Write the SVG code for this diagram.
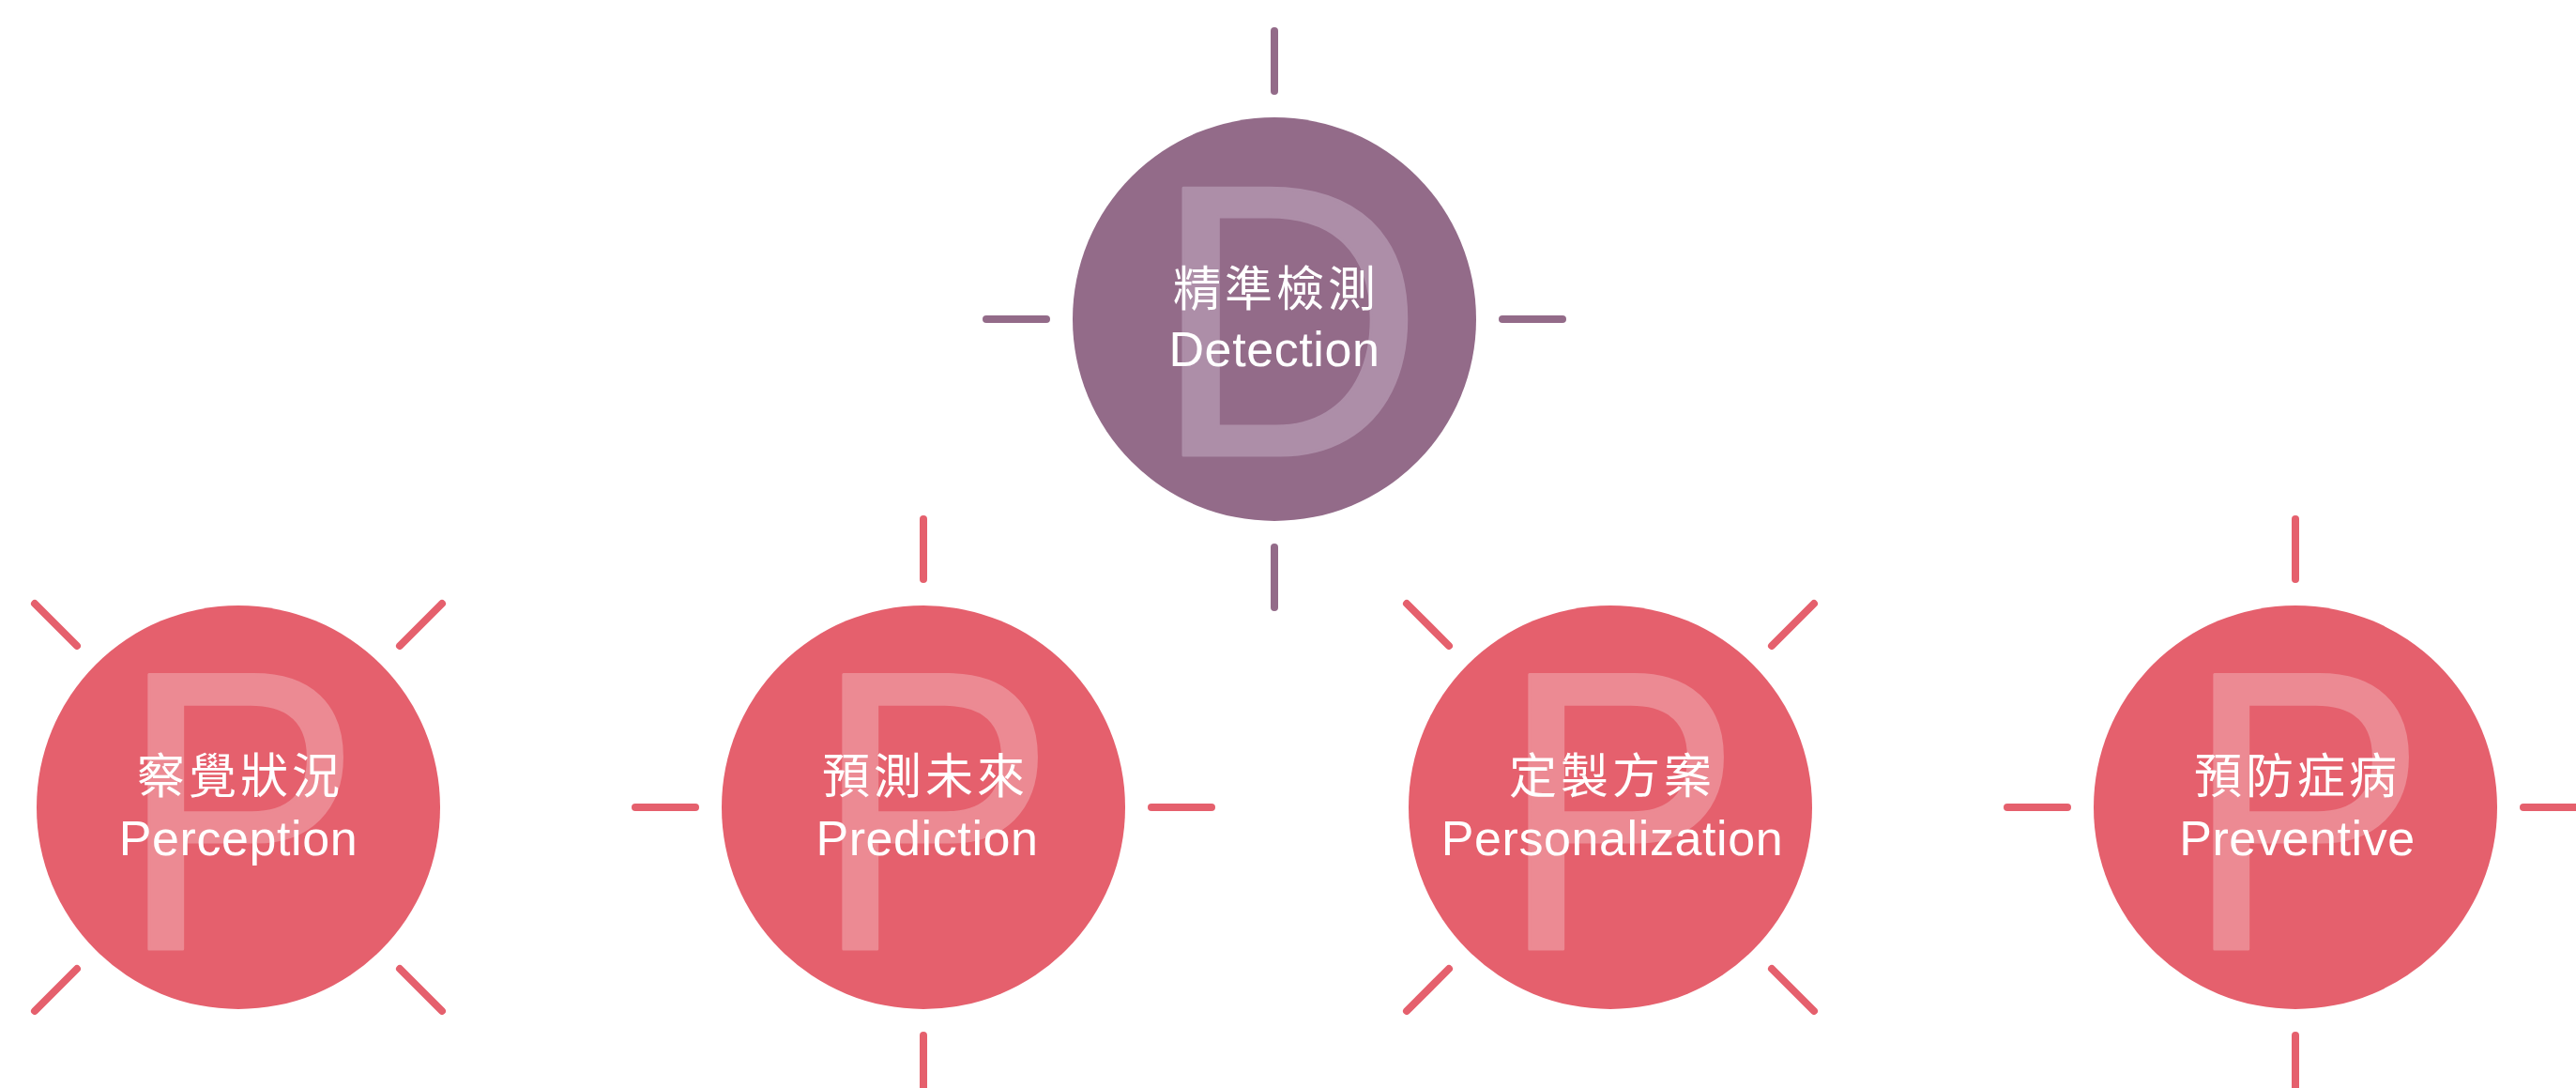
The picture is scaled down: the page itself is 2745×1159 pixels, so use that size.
<svg xmlns="http://www.w3.org/2000/svg" width="2745" height="1159" viewBox="0 0 2745 1159">
<style>
.bg{fill:#ffffff}
.red{fill:#e5606d}
.pur{fill:#936b89}
.bigP{fill:#ec8a93;stroke:#ec8a93;stroke-width:3;stroke-linejoin:round;font-family:"Liberation Sans",Arial,sans-serif;font-size:425px}
.bigD{fill:#ad8ea8;stroke:#ad8ea8;stroke-width:3;stroke-linejoin:round;font-family:"Liberation Sans",Arial,sans-serif;font-size:414px}
.zh{fill:#ffffff;font-family:"Noto Sans CJK TC","Noto Sans CJK SC",sans-serif;font-size:51px;letter-spacing:4px;text-anchor:middle}
.en{fill:#ffffff;font-family:"Liberation Sans",Arial,sans-serif;font-size:52px;letter-spacing:0.6px;text-anchor:middle}
.tr{stroke:#e5606d;stroke-width:8;stroke-linecap:round;fill:none}
.tp{stroke:#936b89;stroke-width:8;stroke-linecap:round;fill:none}
</style>
<rect class="bg" x="0" y="0" width="2745" height="1159"/>
<g id="connectors">
  <line class="tp" x1="1358" y1="33" x2="1358" y2="97"/>
  <line class="tp" x1="1358" y1="583" x2="1358" y2="647"/>
  <line class="tp" x1="1051" y1="340" x2="1115" y2="340"/>
  <line class="tp" x1="1601" y1="340" x2="1665" y2="340"/>
  <line class="tr" x1="37" y1="643" x2="82" y2="688"/>
  <line class="tr" x1="471" y1="643" x2="426" y2="688"/>
  <line class="tr" x1="37" y1="1077" x2="82" y2="1032"/>
  <line class="tr" x1="471" y1="1077" x2="426" y2="1032"/>
  <line class="tr" x1="984" y1="553" x2="984" y2="617"/>
  <line class="tr" x1="984" y1="1103" x2="984" y2="1167"/>
  <line class="tr" x1="677" y1="860" x2="741" y2="860"/>
  <line class="tr" x1="1227" y1="860" x2="1291" y2="860"/>
  <line class="tr" x1="1499" y1="643" x2="1544" y2="688"/>
  <line class="tr" x1="1933" y1="643" x2="1888" y2="688"/>
  <line class="tr" x1="1499" y1="1077" x2="1544" y2="1032"/>
  <line class="tr" x1="1933" y1="1077" x2="1888" y2="1032"/>
  <line class="tr" x1="2446" y1="553" x2="2446" y2="617"/>
  <line class="tr" x1="2446" y1="1103" x2="2446" y2="1167"/>
  <line class="tr" x1="2139" y1="860" x2="2203" y2="860"/>
  <line class="tr" x1="2689" y1="860" x2="2753" y2="860"/>
</g>
<g id="node-detection">
  <circle class="pur" cx="1358" cy="340" r="215"/>
  <text class="bigD" transform="translate(1228,485) scale(0.97,1)">D</text>
  <text class="zh" x="1360" y="326">精準檢測</text>
  <text class="en" x="1358" y="390">Detection</text>
</g>
<g id="node-perception">
  <circle class="red" cx="254" cy="860" r="215"/>
  <text class="bigP" transform="translate(127,1011) scale(0.91,1)">P</text>
  <text class="zh" x="256" y="845">察覺狀況</text>
  <text class="en" x="254" y="911">Perception</text>
</g>
<g id="node-prediction">
  <circle class="red" cx="984" cy="860" r="215"/>
  <text class="bigP" transform="translate(867,1011) scale(0.91,1)">P</text>
  <text class="zh" x="986" y="845">預測未來</text>
  <text class="en" x="988" y="911">Prediction</text>
</g>
<g id="node-personalization">
  <circle class="red" cx="1716" cy="860" r="215"/>
  <text class="bigP" transform="translate(1598,1011) scale(0.91,1)">P</text>
  <text class="zh" x="1718" y="845">定製方案</text>
  <text class="en" x="1718" y="911">Personalization</text>
</g>
<g id="node-preventive">
  <circle class="red" cx="2446" cy="860" r="215"/>
  <text class="bigP" transform="translate(2328,1011) scale(0.91,1)">P</text>
  <text class="zh" x="2448" y="845">預防症病</text>
  <text class="en" x="2448" y="911">Preventive</text>
</g>
</svg>
